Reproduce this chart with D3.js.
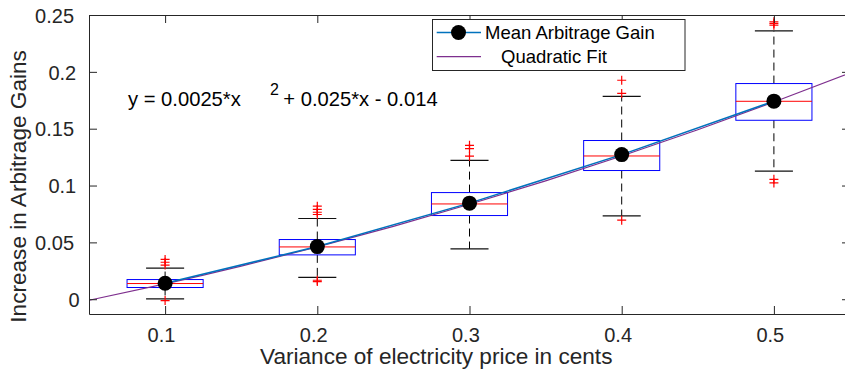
<!DOCTYPE html>
<html>
<head>
<meta charset="utf-8">
<script src="https://cdn.jsdelivr.net/npm/d3@7/dist/d3.min.js"></script>
<style>
  html, body { margin: 0; padding: 0; background: #fff; }
  svg { display: block; font-family: "Liberation Sans", Arial, Helvetica, sans-serif; }
</style>
</head>
<body>
<svg id="chart" width="845" height="371"></svg>
<script>
// ---------------- data ----------------
const categories = [0.1, 0.2, 0.3, 0.4, 0.5];
const xTickLabels = ["0.1", "0.2", "0.3", "0.4", "0.5"];
const yTickValues = [0, 0.05, 0.1, 0.15, 0.2, 0.25];
const yTickLabels = ["0", "0.05", "0.1", "0.15", "0.2", "0.25"];

const q1 = [0.0103, 0.0390, 0.0736, 0.1132, 0.1574];
const medians = [0.0138, 0.0460, 0.0838, 0.1260, 0.1741];
const q3 = [0.0173, 0.0525, 0.0938, 0.1396, 0.1897];
const whiskerLow = [0.0003, 0.0193, 0.0442, 0.0733, 0.1126];
const whiskerHigh = [0.0273, 0.0710, 0.1222, 0.1785, 0.2360];
const outliers = [
  [0.0350, 0.0325, 0.0300, -0.0012],
  [0.0818, 0.0790, 0.0765, 0.0745, 0.0167, 0.0155],
  [0.1354, 0.1325, 0.1258],
  [0.1926, 0.1810, 0.0695],
  [0.2440, 0.2425, 0.2410, 0.1055, 0.1023]
];
const meanGain = [0.0140, 0.0463, 0.0845, 0.1272, 0.1742];

// quadratic fit curve
const fitX = [0.05, 0.10, 0.15, 0.20, 0.25, 0.30, 0.35, 0.40, 0.45, 0.50, 0.55];
const fitY = [-0.0009, 0.0135, 0.0291, 0.0460, 0.0641, 0.0835, 0.1041, 0.1260, 0.1491, 0.1735, 0.1990];

const legendLabels = ["Mean Arbitrage Gain", "Quadratic Fit"];
const equationParts = ["y = 0.0025*x", "2", "+ 0.025*x - 0.014"];
const xLabel = "Variance of electricity price in cents";
const yLabel = "Increase in Arbitrage Gains";

// ---------------- layout ----------------
const L = 89, R = 850, T = 15, B = 314;
const svg = d3.select("#chart");
const x = d3.scaleLinear().domain([0.05, 0.55]).range([L, R]);
const y = d3.scaleLinear().domain([-0.013, 0.25]).range([B, T]);
const axisColor = "#262626";
const boxHalf = 0.025, capHalf = 0.0125;

// ---------------- boxes ----------------
const g = svg.append("g");
categories.forEach((c, i) => {
  // whiskers (dashed)
  g.append("line").attr("x1", x(c)).attr("x2", x(c))
    .attr("y1", y(q3[i])).attr("y2", y(whiskerHigh[i]))
    .attr("stroke", "#000").attr("stroke-width", 1).attr("stroke-dasharray", "8,5");
  g.append("line").attr("x1", x(c)).attr("x2", x(c))
    .attr("y1", y(q1[i])).attr("y2", y(whiskerLow[i]))
    .attr("stroke", "#000").attr("stroke-width", 1).attr("stroke-dasharray", "8,5");
  // caps
  [whiskerHigh[i], whiskerLow[i]].forEach(v => {
    g.append("line").attr("x1", x(c - capHalf)).attr("x2", x(c + capHalf))
      .attr("y1", y(v)).attr("y2", y(v))
      .attr("stroke", "#111").attr("stroke-width", 1.2);
  });
  // box
  g.append("rect").attr("x", x(c - boxHalf)).attr("y", y(q3[i]))
    .attr("width", x(c + boxHalf) - x(c - boxHalf)).attr("height", y(q1[i]) - y(q3[i]))
    .attr("fill", "none").attr("stroke", "#0000ff").attr("stroke-width", 1);
  // median
  g.append("line").attr("x1", x(c - boxHalf)).attr("x2", x(c + boxHalf))
    .attr("y1", y(medians[i])).attr("y2", y(medians[i]))
    .attr("stroke", "#ff0000").attr("stroke-width", 1);
  // outliers
  outliers[i].forEach(v => {
    const px = x(c), py = y(v);
    g.append("path").attr("d", `M${px - 4.5},${py}H${px + 4.5}M${px},${py - 4.5}V${py + 4.5}`)
      .attr("stroke", "#ff0000").attr("stroke-width", 1.2).attr("fill", "none");
  });
});

// ---------------- fit & mean ----------------
const fitData = fitX.map((v, i) => [v, fitY[i]]);
svg.append("path").datum(fitData)
  .attr("d", d3.line().x(d => x(d[0])).y(d => y(d[1])).curve(d3.curveNatural))
  .attr("fill", "none").attr("stroke", "#7E2F8E").attr("stroke-width", 1.2);

const meanData = categories.map((c, i) => [c, meanGain[i]]);
svg.append("path").datum(meanData)
  .attr("d", d3.line().x(d => x(d[0])).y(d => y(d[1])))
  .attr("fill", "none").attr("stroke", "#0072BD").attr("stroke-width", 1.5);
svg.selectAll("circle.mean").data(meanData).join("circle").attr("class", "mean")
  .attr("cx", d => x(d[0])).attr("cy", d => y(d[1])).attr("r", 7.5).attr("fill", "#000");

// ---------------- axes ----------------
function styleAxis(sel) {
  sel.select(".domain").attr("stroke", axisColor).attr("stroke-width", 1);
  sel.selectAll(".tick line").attr("stroke", axisColor).attr("stroke-width", 1);
  sel.selectAll(".tick text").attr("fill", axisColor).style("font-size", "20px")
    .style("font-family", '"Liberation Sans", Arial, sans-serif');
}
const xAxis = svg.append("g").attr("transform", `translate(0,${B})`)
  .call(d3.axisBottom(x).tickValues(categories).tickFormat((d, i) => xTickLabels[i])
    .tickSizeInner(-8).tickSizeOuter(0).tickPadding(0));
styleAxis(xAxis);
xAxis.selectAll(".tick text").attr("text-anchor", "start").attr("x", -18).attr("y", 28).attr("dy", null);

const yAxis = svg.append("g").attr("transform", `translate(${L},0)`)
  .call(d3.axisLeft(y).tickValues(yTickValues).tickFormat((d, i) => yTickLabels[i])
    .tickSizeInner(-8).tickSizeOuter(0));
styleAxis(yAxis);
yAxis.selectAll(".tick text").attr("text-anchor", "start")
  .attr("x", function () {
    const s = d3.select(this).text();
    const digits = s.replace(/[^0-9]/g, "").length, dots = s.length - digits;
    return 81.7 - 13.3 * digits - 6.7 * dots - L;
  })
  .attr("dy", "0.36em");

const topAxis = svg.append("g").attr("transform", `translate(0,${T})`)
  .call(d3.axisTop(x).tickValues(categories).tickFormat("").tickSizeInner(-8).tickSizeOuter(0));
styleAxis(topAxis);
const rightAxis = svg.append("g").attr("transform", `translate(${R},0)`)
  .call(d3.axisRight(y).tickValues(yTickValues).tickFormat("").tickSizeInner(-8).tickSizeOuter(0));
styleAxis(rightAxis);

// axis labels
svg.append("text").attr("x", 260).attr("y", 364).attr("fill", axisColor)
  .style("font-size", "22.6px").text(xLabel);
svg.append("text").attr("transform", "translate(25.5,322.7) rotate(-90)").attr("fill", axisColor)
  .style("font-size", "22.6px").text(yLabel);

// equation
svg.append("text").attr("x", 128).attr("y", 106).attr("fill", "#000").style("font-size", "20.2px").text(equationParts[0]);
svg.append("text").attr("x", 270).attr("y", 95).attr("fill", "#000").style("font-size", "16px").text(equationParts[1]);
svg.append("text").attr("x", 283.3).attr("y", 106).attr("fill", "#000").style("font-size", "20.2px").text(equationParts[2]);

// ---------------- legend ----------------
const lg = svg.append("g");
lg.append("rect").attr("x", 432.5).attr("y", 19.5).attr("width", 252.5).attr("height", 51)
  .attr("fill", "#fff").attr("stroke", axisColor).attr("stroke-width", 1);
lg.append("line").attr("x1", 436.7).attr("x2", 481).attr("y1", 32.5).attr("y2", 32.5)
  .attr("stroke", "#0072BD").attr("stroke-width", 1.5);
lg.append("circle").attr("cx", 458.5).attr("cy", 32.5).attr("r", 7.5).attr("fill", "#000");
lg.append("line").attr("x1", 436.7).attr("x2", 481).attr("y1", 56.7).attr("y2", 56.7)
  .attr("stroke", "#7E2F8E").attr("stroke-width", 1.2);
lg.append("text").attr("x", 485).attr("y", 39).attr("fill", "#000").style("font-size", "18.5px").text(legendLabels[0]);
lg.append("text").attr("x", 501).attr("y", 63).attr("fill", "#000").style("font-size", "18.5px").text(legendLabels[1]);
</script>
</body>
</html>
